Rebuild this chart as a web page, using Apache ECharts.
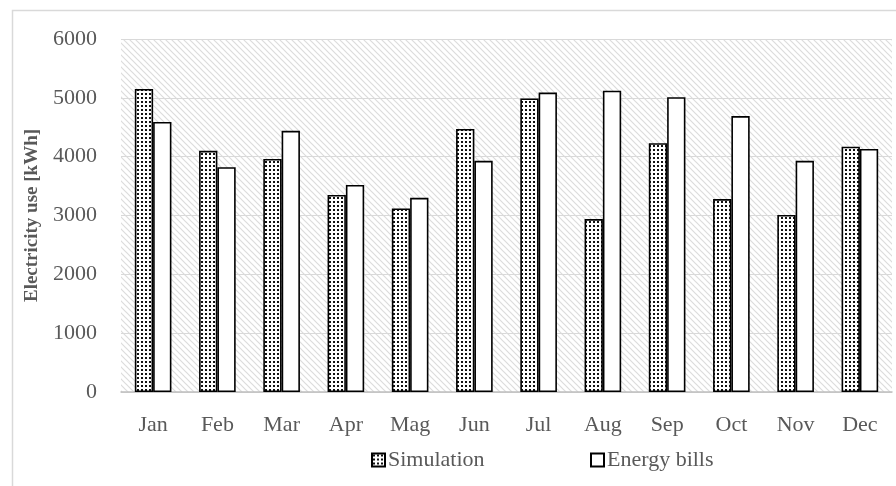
<!DOCTYPE html>
<html>
<head>
<meta charset="utf-8">
<script src="https://cdn.jsdelivr.net/npm/echarts@6/dist/echarts.min.js"></script>
<style>
  html, body { margin: 0; padding: 0; background: #ffffff; }
  #chart { width: 896px; height: 486px; }
</style>
</head>
<body>
<div id="chart"></div>
<script>
// Monthly electricity use: simulated vs. billed
const months = ['Jan', 'Feb', 'Mar', 'Apr', 'Mag', 'Jun', 'Jul', 'Aug', 'Sep', 'Oct', 'Nov', 'Dec'];
const simulation = [5150, 4100, 3960, 3350, 3120, 4470, 4990, 2940, 4230, 3280, 3010, 4170];
const energyBills = [4590, 3820, 4440, 3520, 3300, 3930, 5090, 5120, 5010, 4690, 3930, 4130];
const yTicks = [0, 1000, 2000, 3000, 4000, 5000, 6000];

// Light diagonal hatch for the plot background
function hatchPattern() {
  const c = document.createElement('canvas');
  c.width = 6; c.height = 6;
  const g = c.getContext('2d');
  g.fillStyle = '#ffffff';
  g.fillRect(0, 0, 6, 6);
  g.strokeStyle = '#dcdcdc';
  g.lineWidth = 1.2;
  g.beginPath();
  g.moveTo(-1, -1); g.lineTo(7, 7);
  g.moveTo(-7, -1); g.lineTo(1, 7);
  g.moveTo(5, -1); g.lineTo(13, 7);
  g.stroke();
  return { image: c, repeat: 'repeat' };
}

// Dotted fill for the simulation bars
function dotPattern() {
  const c = document.createElement('canvas');
  c.width = 4; c.height = 4;
  const g = c.getContext('2d');
  g.fillStyle = '#ffffff';
  g.fillRect(0, 0, 4, 4);
  g.fillStyle = '#111111';
  g.fillRect(1, 1, 2, 2);
  return { image: c, repeat: 'repeat' };
}

const textColor = '#595959';
const font = '"Liberation Serif", "Times New Roman", serif';

const chart = echarts.init(document.getElementById('chart'), null, { renderer: 'canvas' });
chart.setOption({
  animation: false,
  backgroundColor: '#ffffff',
  textStyle: { fontFamily: font },
  graphic: [{
    type: 'rect',
    left: 10, top: 8,
    shape: { width: 1000, height: 600 },
    style: { fill: 'none', stroke: '#d9d9d9', lineWidth: 1.5 },
    z: -10
  }],
  grid: {
    show: true,
    left: 121, right: 4, top: 39, bottom: 94,
    backgroundColor: hatchPattern(),
    borderWidth: 0
  },
  legend: [{
    data: ['Simulation'],
    icon: 'rect',
    left: 366, top: 444,
    itemWidth: 13, itemHeight: 13, itemGap: 4,
    textStyle: { color: textColor, fontSize: 22, fontFamily: font, padding: [0, 0, 0, -2] }
  }, {
    data: ['Energy bills'],
    icon: 'rect',
    left: 585, top: 444,
    itemWidth: 13, itemHeight: 13, itemGap: 4,
    textStyle: { color: textColor, fontSize: 22, fontFamily: font, padding: [0, 0, 0, -2] }
  }],
  xAxis: {
    type: 'category',
    data: months,
    axisLine: { show: true, lineStyle: { color: '#bfbfbf', width: 1.5 } },
    axisTick: { show: false },
    axisLabel: { color: textColor, fontSize: 22, fontFamily: font, margin: 22 }
  },
  yAxis: {
    type: 'value',
    min: yTicks[0], max: yTicks[yTicks.length - 1], interval: 1000,
    name: 'Electricity use [kWh]',
    nameLocation: 'middle',
    nameRotate: 90,
    nameGap: 79,
    nameTextStyle: { color: textColor, fontSize: 19, fontWeight: 'bold', fontFamily: font },
    axisLine: { show: false },
    axisTick: { show: false },
    splitLine: { lineStyle: { color: '#d9d9d9', width: 1 } },
    axisLabel: {
      color: textColor, fontSize: 22, fontFamily: font, margin: 24,
      formatter: function (v) { return String(v); }
    }
  },
  series: [{
    name: 'Simulation',
    type: 'bar',
    data: simulation,
    barGap: '0%',
    barCategoryGap: '43%',
    itemStyle: { color: dotPattern(), borderColor: '#000000', borderWidth: 1.6 }
  }, {
    name: 'Energy bills',
    type: 'bar',
    data: energyBills,
    itemStyle: { color: '#ffffff', borderColor: '#000000', borderWidth: 1.6 }
  }]
});
</script>
</body>
</html>
